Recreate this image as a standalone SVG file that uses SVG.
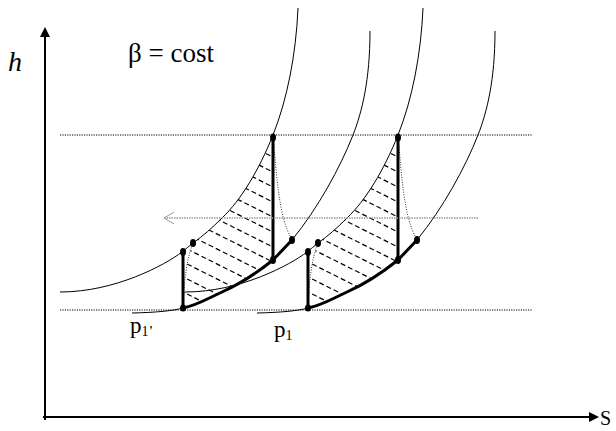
<svg xmlns="http://www.w3.org/2000/svg" width="616" height="431" viewBox="0 0 616 431">
<style>
.thin{fill:none;stroke:#000;stroke-width:1}
.thick{fill:none;stroke:#000;stroke-width:3;stroke-linecap:round;stroke-linejoin:round}
.dotline{fill:none;stroke:#000;stroke-width:1;stroke-dasharray:1.2 1.2}
.dotarc{fill:none;stroke:#333;stroke-width:1;stroke-dasharray:1 1.5}
.hatch{fill:none;stroke:#000;stroke-width:1.2;stroke-dasharray:5 3}
.txt{font-family:"Liberation Serif","Times New Roman",serif;fill:#000}
</style>
<defs>
<clipPath id="clip1">
<path d="M273,135 C259,170 241,200 222,218 C212,228 203,236 193,243 C187,258 184,280 183,308 C195,306 205,300 222,292 C240,284 258,272 273,260 Z"/>
</clipPath>
<g id="hatchlines">
<line x1="180" y1="110.5" x2="276" y2="158.5"/>
<line x1="180" y1="125.5" x2="276" y2="173.5"/>
<line x1="180" y1="140.5" x2="276" y2="188.5"/>
<line x1="180" y1="155.5" x2="276" y2="203.5"/>
<line x1="180" y1="170.5" x2="276" y2="218.5"/>
<line x1="180" y1="185.5" x2="276" y2="233.5"/>
<line x1="180" y1="200.5" x2="276" y2="248.5"/>
<line x1="180" y1="215.5" x2="276" y2="263.5"/>
<line x1="180" y1="230.5" x2="276" y2="278.5"/>
<line x1="180" y1="245.5" x2="276" y2="293.5"/>
<line x1="180" y1="260.5" x2="276" y2="308.5"/>
<line x1="180" y1="275.5" x2="276" y2="323.5"/>
<line x1="180" y1="290.5" x2="276" y2="338.5"/>
</g>
<path id="curveA" d="M298,8 C296,55 287,100 273,135 C259,170 241,200 222,218 C212,228 203,236 193,243 C189,246 186,249 182,252 C165,265 115,292 60,292"/>
<path id="curveB" d="M370,31 C370,80 362,112 353,135 C340,168 318,208 292,240"/>
</defs>

<g id="axes">
<line x1="45" y1="420" x2="45" y2="36" stroke="#000" stroke-width="2"/>
<polygon points="45,27 40,37 50,37" fill="#000"/>
<line x1="43" y1="417" x2="590" y2="417" stroke="#000" stroke-width="2"/>
<polygon points="599,417 589,412 589,422" fill="#000"/>
<text class="txt" x="8" y="71" font-size="28" font-style="italic">h</text>
<text class="txt" x="600" y="425" font-size="20">S</text>
</g>

<g id="levels">
<line class="dotline" x1="60" y1="135" x2="532" y2="135"/>
<line class="dotline" x1="60" y1="310" x2="532" y2="310"/>
</g>

<g id="isobars">
<use href="#curveA" class="thin"/>
<use href="#curveA" class="thin" transform="translate(125,0)"/>
<use href="#curveB" class="thin"/>
<use href="#curveB" class="thin" transform="translate(125,0)"/>
<path class="thin" d="M132,313 C155,312.5 172,311 183,308"/>
<path class="thin" d="M257,313 C280,312.5 297,311 308,308"/>
</g>

<g id="cycle1">
<g class="hatch" clip-path="url(#clip1)"><use href="#hatchlines"/></g>
<path class="dotarc" d="M193,243 C187,258 184,280 183,308"/>
<path class="dotarc" d="M273,137 C277,175 278,215 292,240"/>
<path class="thick" d="M183,252 L183,308 C195,306 205,300 222,292 C240,284 258,272 273,260 L292,240"/>
<line class="thick" x1="273" y1="137" x2="273" y2="260"/>
<g fill="#000">
<ellipse cx="183" cy="252" rx="3" ry="4"/>
<ellipse cx="193" cy="243" rx="3" ry="4"/>
<ellipse cx="183" cy="308" rx="3" ry="3.5"/>
<ellipse cx="273" cy="137.5" rx="3" ry="4"/>
<ellipse cx="273" cy="260" rx="3" ry="4"/>
<ellipse cx="292" cy="240" rx="3" ry="4"/>
</g>
</g>

<g id="cycle2" transform="translate(125,0)">
<g class="hatch" clip-path="url(#clip1)"><use href="#hatchlines"/></g>
<path class="dotarc" d="M193,243 C187,258 184,280 183,308"/>
<path class="dotarc" d="M273,137 C277,175 278,215 292,240"/>
<path class="thick" d="M183,252 L183,308 C195,306 205,300 222,292 C240,284 258,272 273,260 L292,240"/>
<line class="thick" x1="273" y1="137" x2="273" y2="260"/>
<g fill="#000">
<ellipse cx="183" cy="252" rx="3" ry="4"/>
<ellipse cx="193" cy="243" rx="3" ry="4"/>
<ellipse cx="183" cy="308" rx="3" ry="3.5"/>
<ellipse cx="273" cy="137.5" rx="3" ry="4"/>
<ellipse cx="273" cy="260" rx="3" ry="4"/>
<ellipse cx="292" cy="240" rx="3" ry="4"/>
</g>
</g>

<g id="shift-arrow">
<line x1="478" y1="218" x2="164" y2="218" stroke="#999" stroke-width="1.5" stroke-dasharray="1.5 1"/>
<polyline points="174,212 164,218 174,224" fill="none" stroke="#999" stroke-width="1"/>
</g>

<g id="labels">
<text class="txt" x="128" y="62" font-size="27">β = cost</text>
<text class="txt" x="130" y="333" font-size="23">p<tspan font-size="14" dy="3">1’</tspan></text>
<text class="txt" x="274" y="337" font-size="23">p<tspan font-size="14" dy="3">1</tspan></text>
</g>
</svg>
